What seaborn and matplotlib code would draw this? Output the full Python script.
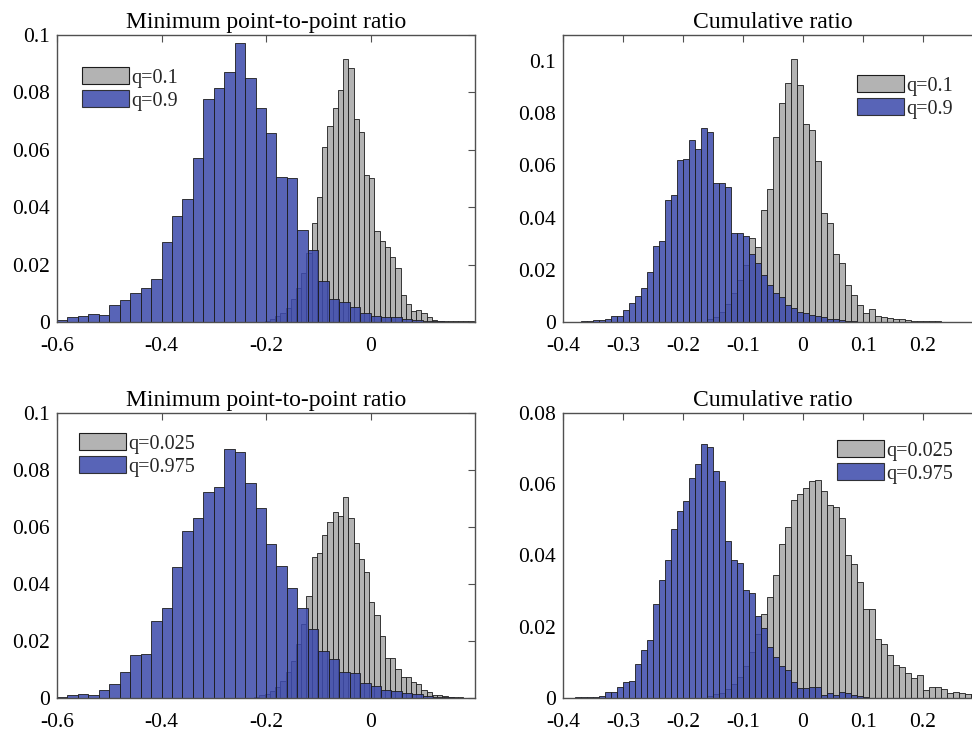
import numpy as np
import pandas as pd
import matplotlib
matplotlib.use("Agg")
import matplotlib.pyplot as plt
from matplotlib.patches import Patch
import seaborn as sns

# ---------------- data (bin start, bin width, bar heights) ----------------
titles = ["Minimum point-to-point ratio", "Cumulative ratio",
          "Minimum point-to-point ratio", "Cumulative ratio"]
legend_labels = [["q=0.1", "q=0.9"], ["q=0.1", "q=0.9"],
                 ["q=0.025", "q=0.975"], ["q=0.025", "q=0.975"]]

# top-left
p1_gray_start, p1_gray_width = -0.2025, 0.01
p1_gray = [0.0005, 0.001, 0.002, 0.003, 0.005, 0.008, 0.012, 0.017, 0.024,
           0.0346, 0.0437, 0.0609, 0.0684, 0.0744, 0.0808, 0.0915, 0.0886, 0.0706,
           0.0663, 0.0512, 0.0501, 0.0317, 0.0283, 0.026, 0.0225, 0.0187, 0.0094,
           0.0063, 0.0038, 0.0042, 0.003, 0.0019, 0.0008, 0.0005, 0.0004, 0.0003,
           0.0002, 0.0002, 0.0002, 0.0002]
p1_blue_start, p1_blue_width = -0.60, 0.02
p1_blue = [0.0007, 0.0016, 0.002, 0.0028, 0.0024, 0.0059, 0.0077, 0.0102, 0.0117,
           0.0151, 0.028, 0.0369, 0.0427, 0.057, 0.0777, 0.0816, 0.0872, 0.0973,
           0.0851, 0.0744, 0.066, 0.0506, 0.0503, 0.032, 0.0251, 0.0144, 0.0079,
           0.0071, 0.0053, 0.003, 0.0022, 0.0019, 0.0016, 0.0012, 0.0007, 0.0004,
           0.0002]

# top-right
p2_gray_start, p2_gray_width = -0.16, 0.01
p2_gray = [0.001, 0.002, 0.004, 0.007, 0.011, 0.016, 0.022, 0.0322, 0.0287, 0.043,
           0.051, 0.0708, 0.084, 0.0917, 0.1007, 0.091, 0.0757, 0.0734, 0.0616,
           0.0418, 0.0379, 0.0261, 0.0225, 0.0142, 0.0104, 0.0065, 0.0036, 0.0049,
           0.0024, 0.002, 0.0014, 0.0013, 0.001, 0.0008, 0.0005, 0.0004, 0.0003,
           0.0002, 0.0002]
p2_blue_start, p2_blue_width = -0.37, 0.01
p2_blue = [0.0002, 0.0004, 0.0008, 0.0009, 0.001, 0.0024, 0.0024, 0.0046, 0.0072,
           0.0101, 0.0129, 0.0193, 0.0293, 0.0312, 0.0466, 0.0488, 0.062, 0.0625,
           0.0697, 0.0663, 0.0743, 0.0729, 0.0533, 0.0533, 0.0518, 0.0343, 0.0343,
           0.0328, 0.026, 0.0225, 0.018, 0.0142, 0.011, 0.0097, 0.0065, 0.0052,
           0.004, 0.0033, 0.0027, 0.0023, 0.0018, 0.0013, 0.001, 0.0006, 0.0004,
           0.0002]

# bottom-left
p3_gray_start, p3_gray_width = -0.2225, 0.01
p3_gray = [0.0005, 0.001, 0.0015, 0.0025, 0.004, 0.006, 0.009, 0.013, 0.019, 0.026,
           0.0359, 0.0496, 0.051, 0.0572, 0.0619, 0.0654, 0.0639, 0.0706, 0.0633,
           0.0543, 0.0487, 0.0441, 0.0338, 0.0291, 0.0219, 0.0139, 0.0139, 0.0101,
           0.0075, 0.0073, 0.0057, 0.0049, 0.0028, 0.0022, 0.0011, 0.0011, 0.0007,
           0.0005, 0.0003, 0.0002]
p3_blue_start, p3_blue_width = -0.60, 0.02
p3_blue = [0.0005, 0.0011, 0.0014, 0.0011, 0.0028, 0.0048, 0.009, 0.0151, 0.0154,
           0.0271, 0.0317, 0.0461, 0.0586, 0.063, 0.0724, 0.0741, 0.0872, 0.0864,
           0.0753, 0.0668, 0.0539, 0.0463, 0.0387, 0.0315, 0.0242, 0.0166, 0.0136,
           0.0092, 0.0087, 0.0054, 0.0043, 0.0028, 0.0025, 0.0016, 0.0013, 0.0008,
           0.0005, 0.0003]

# bottom-right
p4_gray_start, p4_gray_width = -0.16, 0.01
p4_gray = [0.0005, 0.001, 0.0015, 0.0025, 0.004, 0.006, 0.009, 0.013, 0.018,
           0.0237, 0.0284, 0.0344, 0.0433, 0.0479, 0.0557, 0.0574, 0.0589, 0.061,
           0.0613, 0.0582, 0.0543, 0.0537, 0.0506, 0.04, 0.0375, 0.0326, 0.0249,
           0.0249, 0.0165, 0.0152, 0.0121, 0.0093, 0.0088, 0.007, 0.0056, 0.0065,
           0.0023, 0.0032, 0.0032, 0.0025, 0.0014, 0.0016, 0.0014, 0.0012, 0.001,
           0.0008]
p4_blue_start, p4_blue_width = -0.38, 0.01
p4_blue = [0.0002, 0.0003, 0.0002, 0.0004, 0.0006, 0.0016, 0.0018, 0.0031, 0.0046,
           0.0048, 0.0096, 0.0135, 0.0163, 0.0263, 0.033, 0.0388, 0.0475, 0.0526,
           0.0554, 0.0617, 0.0658, 0.0714, 0.0705, 0.0636, 0.061, 0.044, 0.0388,
           0.0379, 0.0304, 0.0296, 0.0231, 0.0197, 0.0142, 0.0115, 0.0089, 0.0079,
           0.0046, 0.0028, 0.0027, 0.0031, 0.003, 0.0009, 0.0014, 0.0009, 0.0016,
           0.0014, 0.0009, 0.0005, 0.0003]

x_limits = [(-0.6, 0.2), (-0.4, 0.3), (-0.6, 0.2), (-0.4, 0.3)]
y_limits = [(0, 0.1), (0, 0.11), (0, 0.1), (0, 0.08)]
x_ticks = [[-0.6, -0.4, -0.2, 0], [-0.4, -0.3, -0.2, -0.1, 0, 0.1, 0.2],
           [-0.6, -0.4, -0.2, 0], [-0.4, -0.3, -0.2, -0.1, 0, 0.1, 0.2]]
y_ticks = [[0, 0.02, 0.04, 0.06, 0.08, 0.1], [0, 0.02, 0.04, 0.06, 0.08, 0.1],
           [0, 0.02, 0.04, 0.06, 0.08, 0.1], [0, 0.02, 0.04, 0.06, 0.08]]

panels = [
    (p1_gray_start, p1_gray_width, p1_gray, p1_blue_start, p1_blue_width, p1_blue),
    (p2_gray_start, p2_gray_width, p2_gray, p2_blue_start, p2_blue_width, p2_blue),
    (p3_gray_start, p3_gray_width, p3_gray, p3_blue_start, p3_blue_width, p3_blue),
    (p4_gray_start, p4_gray_width, p4_gray, p4_blue_start, p4_blue_width, p4_blue),
]

# ---------------- style ----------------
sns.set_theme(style="white")
plt.rcParams["font.family"] = ["Liberation Serif", "DejaVu Serif"]
plt.rcParams["axes.unicode_minus"] = False

GRAY = "#b3b3b3"
BLUE = "#3d4aac"
EDGE = "#1c1c1c"
SPINE = "#505050"

W, H = 972, 732
fig = plt.figure(figsize=(W / 100, H / 100), dpi=100)

# axes rectangles in pixels: (left, top, right, bottom)
rects = [(57, 35, 475, 322), (563, 35, 983, 322),
         (57, 413, 475, 698), (563, 413, 983, 698)]
legend_anchor = [(82, 67), (857, 75), (79, 433), (837, 440)]


def hist_frame(start, width, heights):
    h = [float(v) for v in heights]
    edges = [start + width * k for k in range(len(h) + 1)]
    centers = [(edges[k] + edges[k + 1]) / 2 for k in range(len(h))]
    return pd.DataFrame({"x": centers, "w": h}), edges


def fmt(v):
    return "0" if abs(v) < 1e-12 else ("%g" % v)


for i, (gs, gw, gh, bs, bw, bh) in enumerate(panels):
    l, t, r, b = rects[i]
    ax = fig.add_axes([l / W, 1 - b / H, (r - l) / W, (b - t) / H])

    gdf, gedges = hist_frame(gs, gw, gh)
    bdf, bedges = hist_frame(bs, bw, bh)

    sns.histplot(data=gdf, x="x", weights="w", bins=gedges, stat="count",
                 color=GRAY, alpha=1.0, edgecolor=EDGE, linewidth=0.6, ax=ax)
    sns.histplot(data=bdf, x="x", weights="w", bins=bedges, stat="count",
                 color=BLUE, alpha=0.86, edgecolor=EDGE, linewidth=0.6, ax=ax)

    ax.set_xlim(*x_limits[i])
    ax.set_ylim(*y_limits[i])
    ax.set_xticks(x_ticks[i])
    ax.set_xticklabels([fmt(v) for v in x_ticks[i]])
    ax.set_yticks(y_ticks[i])
    ax.set_yticklabels([fmt(v) for v in y_ticks[i]])
    ax.set_xlabel("")
    ax.set_ylabel("")
    ax.tick_params(direction="in", top=True, right=True, length=5, width=0.8,
                   color=SPINE, labelsize=15.5, labelcolor="black")
    ax.tick_params(axis="x", pad=10.5)
    ax.tick_params(axis="y", pad=5)
    for s in ax.spines.values():
        s.set_color(SPINE)
        s.set_linewidth(1.0)
        s.set_visible(True)
    ax.set_title(titles[i], fontsize=17, pad=5, color="black")

    handles = [Patch(facecolor=GRAY, edgecolor=EDGE, linewidth=0.8),
               Patch(facecolor=BLUE, alpha=0.86, edgecolor=EDGE, linewidth=0.8)]
    lx, ly = legend_anchor[i]
    fig.legend(handles, legend_labels[i], loc="upper left",
               bbox_to_anchor=(lx / W, 1 - ly / H), bbox_transform=fig.transFigure,
               frameon=False, fontsize=14.5, handlelength=2.35, handleheight=0.95,
               labelspacing=0.12, handletextpad=0.12, borderpad=0, borderaxespad=0)

fig.savefig("out.png", dpi=100)
